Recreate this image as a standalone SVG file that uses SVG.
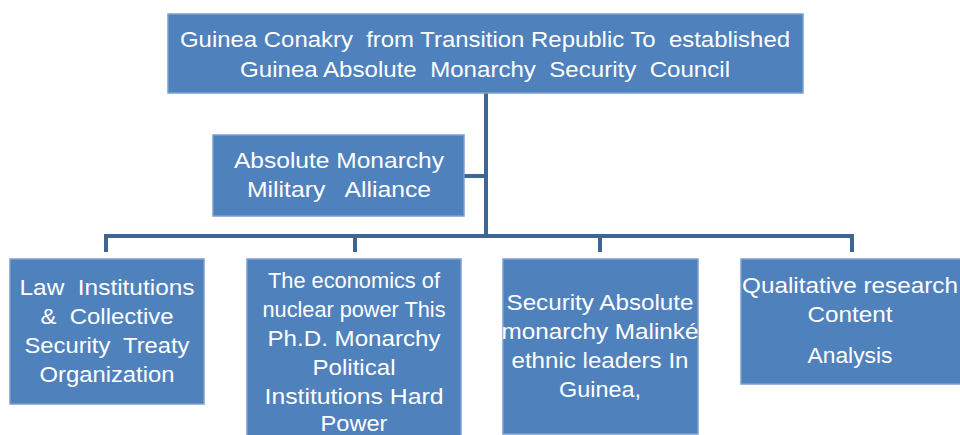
<svg xmlns="http://www.w3.org/2000/svg" width="960" height="435" viewBox="0 0 960 435">
<style>
.box{fill:#4F81BD;stroke:#7a9fd0;stroke-width:1.5}
.t{font-family:"Liberation Sans",Arial,sans-serif;font-size:21.5px;fill:#ffffff;text-anchor:middle;white-space:pre}
.c{fill:none;stroke:#3e6695;stroke-width:4}
</style>
<rect width="960" height="435" fill="#ffffff"/>
<g id="connectors">
<path class="c" d="M486,93 V236"/>
<path class="c" d="M464,176 H486"/>
<path class="c" d="M106,252 V236 H852 V252"/>
<path class="c" d="M355,236 V252"/>
<path class="c" d="M600,236 V252"/>
</g>
<g id="top">
<rect class="box" x="168" y="14" width="635" height="79"/>
<text class="t" xml:space="preserve" x="485" y="47" textLength="610" lengthAdjust="spacingAndGlyphs">Guinea Conakry  from Transition Republic To  established</text>
<text class="t" xml:space="preserve" x="485" y="77" textLength="490" lengthAdjust="spacingAndGlyphs">Guinea Absolute  Monarchy  Security  Council</text>
</g>
<g id="alliance">
<rect class="box" x="213" y="135" width="251" height="81"/>
<text class="t" xml:space="preserve" x="339" y="168" textLength="210" lengthAdjust="spacingAndGlyphs">Absolute Monarchy</text>
<text class="t" xml:space="preserve" x="339" y="197" textLength="184" lengthAdjust="spacingAndGlyphs">Military   Alliance</text>
</g>
<g id="law">
<rect class="box" x="10" y="259" width="194" height="145"/>
<text class="t" xml:space="preserve" x="107" y="295" textLength="175" lengthAdjust="spacingAndGlyphs">Law  Institutions</text>
<text class="t" xml:space="preserve" x="107" y="324" textLength="133" lengthAdjust="spacingAndGlyphs">&amp;  Collective</text>
<text class="t" xml:space="preserve" x="107" y="353" textLength="165" lengthAdjust="spacingAndGlyphs">Security  Treaty</text>
<text class="t" xml:space="preserve" x="107" y="382" textLength="135" lengthAdjust="spacingAndGlyphs">Organization</text>
</g>
<g id="economics">
<rect class="box" x="247" y="259" width="214" height="180"/>
<text class="t" x="354" y="288" textLength="172" lengthAdjust="spacingAndGlyphs">The economics of</text>
<text class="t" x="354" y="317" textLength="183" lengthAdjust="spacingAndGlyphs">nuclear power This</text>
<text class="t" x="354" y="346" textLength="173" lengthAdjust="spacingAndGlyphs">Ph.D. Monarchy</text>
<text class="t" x="354" y="375" textLength="83" lengthAdjust="spacingAndGlyphs">Political</text>
<text class="t" x="354" y="404" textLength="179" lengthAdjust="spacingAndGlyphs">Institutions Hard</text>
<text class="t" x="354" y="431" textLength="67" lengthAdjust="spacingAndGlyphs">Power</text>
</g>
<g id="security">
<rect class="box" x="503" y="259" width="195" height="175"/>
<text class="t" x="600" y="310" textLength="187" lengthAdjust="spacingAndGlyphs">Security Absolute</text>
<text class="t" x="600" y="339" textLength="197" lengthAdjust="spacingAndGlyphs">monarchy Malinké</text>
<text class="t" x="600" y="368" textLength="177" lengthAdjust="spacingAndGlyphs">ethnic leaders In</text>
<text class="t" x="600" y="397" textLength="82" lengthAdjust="spacingAndGlyphs">Guinea,</text>
</g>
<g id="qualitative">
<rect class="box" x="741" y="259" width="225" height="125"/>
<text class="t" x="850" y="293" textLength="216" lengthAdjust="spacingAndGlyphs">Qualitative research</text>
<text class="t" x="850" y="322" textLength="85" lengthAdjust="spacingAndGlyphs">Content</text>
<text class="t" x="850" y="363" textLength="85" lengthAdjust="spacingAndGlyphs">Analysis</text>
</g>
</svg>
